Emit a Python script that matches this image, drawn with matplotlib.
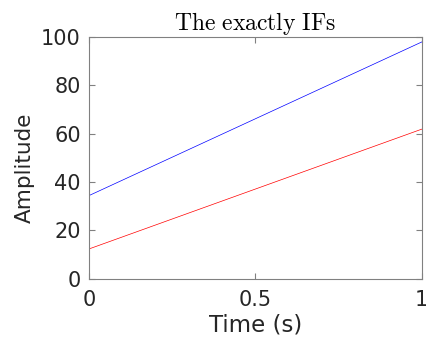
import numpy as np
import matplotlib
matplotlib.use('Agg')
import matplotlib.pyplot as plt

# --- Data ---
time_pts = [0.0, 1.0]
if_blue = [34.4, 98.0]
if_red = [12.3, 61.9]

x_ticks = [0, 0.5, 1]
x_tick_labels = ['0', '0.5', '1']
y_ticks = [0, 20, 40, 60, 80, 100]

plt.rcParams['font.family'] = 'DejaVu Sans'
plt.rcParams['mathtext.fontset'] = 'cm'

fig = plt.figure(figsize=(4.26, 3.44), dpi=100)
ax = fig.add_axes([0.209, 0.190, 0.781, 0.702])

ax.plot(time_pts, if_blue, color='blue', linewidth=0.5)
ax.plot(time_pts, if_red, color='red', linewidth=0.5)

ax.set_xlim(0, 1)
ax.set_ylim(0, 100)
ax.set_xticks(x_ticks)
ax.set_xticklabels(x_tick_labels)
ax.set_yticks(y_ticks)

txt_col = '#262626'
for s in ax.spines.values():
    s.set_color('#808080')
    s.set_linewidth(0.8)
ax.tick_params(direction='in', top=True, right=True, length=4, width=0.8,
               color='#808080', labelcolor=txt_col, labelsize=15)
ax.tick_params(axis='x', pad=8)
ax.tick_params(axis='y', pad=6)

ax.set_xlabel('Time (s)', fontsize=16.5, color=txt_col)
ax.set_ylabel('Amplitude', fontsize=15.5, color=txt_col)
ax.xaxis.set_label_coords(0.5, -0.145)
ax.yaxis.set_label_coords(-0.162, 0.46)
ax.set_title(r'$\mathrm{The\ exactly\ IFs}$', fontsize=17, color='black', pad=5)

fig.savefig('out.png', dpi=100)
